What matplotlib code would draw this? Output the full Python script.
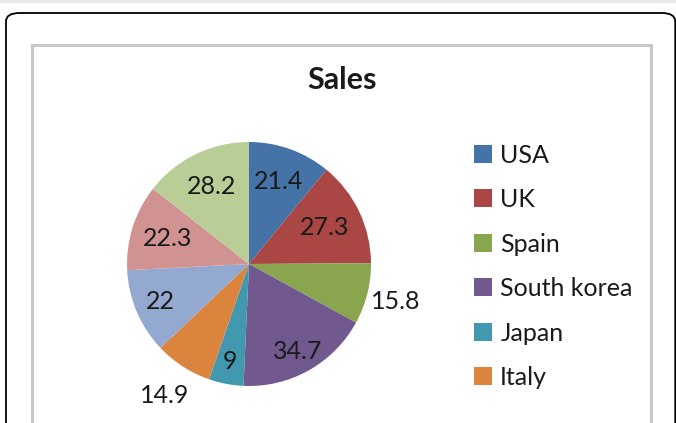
import numpy as np
import matplotlib
matplotlib.use("Agg")
from matplotlib import pyplot as plt
from matplotlib.patches import FancyBboxPatch, Rectangle, Patch

# data (clockwise from 12 o'clock)
countries = ["USA", "UK", "Spain", "South korea", "Japan", "Italy", "", "", ""]
sales = [21.4, 27.3, 15.8, 34.7, 9, 14.9, 22, 22.3, 28.2]
colors = ["#4572A7", "#AA4643", "#89A54E", "#71588F", "#4198AF",
          "#DB843D", "#93A9CF", "#D19392", "#B9CD96"]
# how far out each value label sits (fraction of the radius)
label_dist = [0.72, 0.69, 1.24, 0.82, 0.81, 1.28, 0.79, 0.70, 0.71]

plt.rcParams['font.family'] = ['Lato', 'DejaVu Sans']
fig = plt.figure(figsize=(6.76, 4.23), dpi=100)
W, H = 676.0, 423.0

# top separator, outer rounded frame and inner chart frame
fig.add_artist(plt.Line2D([0, 1], [1 - 1/H, 1 - 1/H], color="#e6e6e6", lw=2))
fig.add_artist(FancyBboxPatch((6/W, -0.2), 0.99, (1 - 13/H) + 0.2,
                              boxstyle="round,pad=0,rounding_size=0.02",
                              fc="none", ec="black", lw=1.3,
                              transform=fig.transFigure))
fig.add_artist(Rectangle((32/W, -0.1), (651-32)/W, (1 - 45/H) + 0.1,
                         fc="none", ec="#c8c8c8", lw=2.2,
                         transform=fig.transFigure))

fig.text(342/W, 1 - 80/H, "Sales", ha="center", va="center",
         fontsize=22, fontweight="bold", color="#1a1a1a")

r_px = 122
cx, cy = 249, 264
ax = fig.add_axes([(cx - r_px)/W, (H - cy - r_px)/H, 2*r_px/W, 2*r_px/H])
wedges, _ = ax.pie(sales, colors=colors, startangle=90, counterclock=False,
                   radius=1, wedgeprops=dict(linewidth=0))
ax.set_xlim(-1, 1)
ax.set_ylim(-1, 1)
ax.set_aspect("equal")
ax.axis("off")

for w, v, d in zip(wedges, sales, label_dist):
    ang = np.deg2rad((w.theta1 + w.theta2) / 2)
    txt = ("%g" % v)
    ax.text(d*np.cos(ang), d*np.sin(ang), txt, ha="center", va="center",
            fontsize=18, color="#1a1a1a", clip_on=False)

handles = [Patch(fc=c, ec="none") for c in colors[:6]]
fig.legend(handles, countries[:6], loc="upper left",
           bbox_to_anchor=(451/W, 1 - 121/H), frameon=False,
           fontsize=18, handlelength=0.72, handleheight=0.72,
           handletextpad=0.35, labelspacing=0.86, labelcolor="#1a1a1a")

fig.savefig("out.png", dpi=100)
